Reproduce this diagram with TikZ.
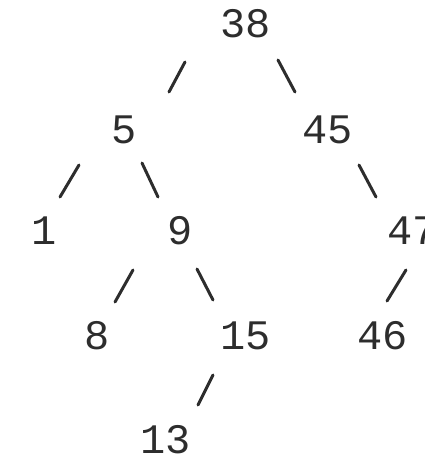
\documentclass[tikz,border=0pt]{standalone}
\usepackage{fontspec}
\setmonofont{Liberation Mono}
\usetikzlibrary{calc}
\definecolor{ink}{RGB}{45,45,45}
\tikzset{
  every picture/.style={color=ink, line width=3pt},
  key/.style={font=\ttfamily\fontsize{42}{50}\selectfont, text=ink, inner sep=0pt},
  edge/.style={draw=ink, line width=3pt, line cap=round},
}

\begin{document}
\begin{tikzpicture}[x=1pt, y=-1pt]
  \useasboundingbox (0,0) rectangle (425,459);
  \clip (0,0) rectangle (425,459);
  % keys, row by row
  \node[key] (n38) at (246,24) {38};
  \node[key] (n5)  at (124,130) {5};
  \node[key] (n45) at (328,130) {45};
  \node[key] (n1)  at (44,231) {1};
  \node[key] (n9)  at (180,231) {9};
  \node[key] (n47) at (413,231) {47};
  \node[key] (n8)  at (97,336) {8};
  \node[key] (n15) at (246,336) {15};
  \node[key] (n46) at (383,336) {46};
  \node[key] (n13) at (166,440) {13};
  % short slashes between parent and child
  \draw[edge] ($(n38)+(-61,38)$) -- ($(n5)+(45,-38)$);
  \draw[edge] ($(n38)+(32,36)$) -- ($(n45)+(-33,-38)$);
  \draw[edge] ($(n5)+(-45,35)$) -- ($(n1)+(16,-34)$);
  \draw[edge] ($(n5)+(18,33)$) -- ($(n9)+(-22,-34)$);
  \draw[edge] ($(n45)+(31,35)$) -- ($(n47)+(-37,-34)$);
  \draw[edge] ($(n9)+(-47,39)$) -- ($(n8)+(18,-34)$);
  \draw[edge] ($(n9)+(17,38)$) -- ($(n15)+(-33,-36)$);
  \draw[edge] ($(n47)+(-7,39)$) -- ($(n46)+(4,-35)$);
  \draw[edge] ($(n15)+(-33,39)$) -- ($(n13)+(32,-35)$);
\end{tikzpicture}
\end{document}
